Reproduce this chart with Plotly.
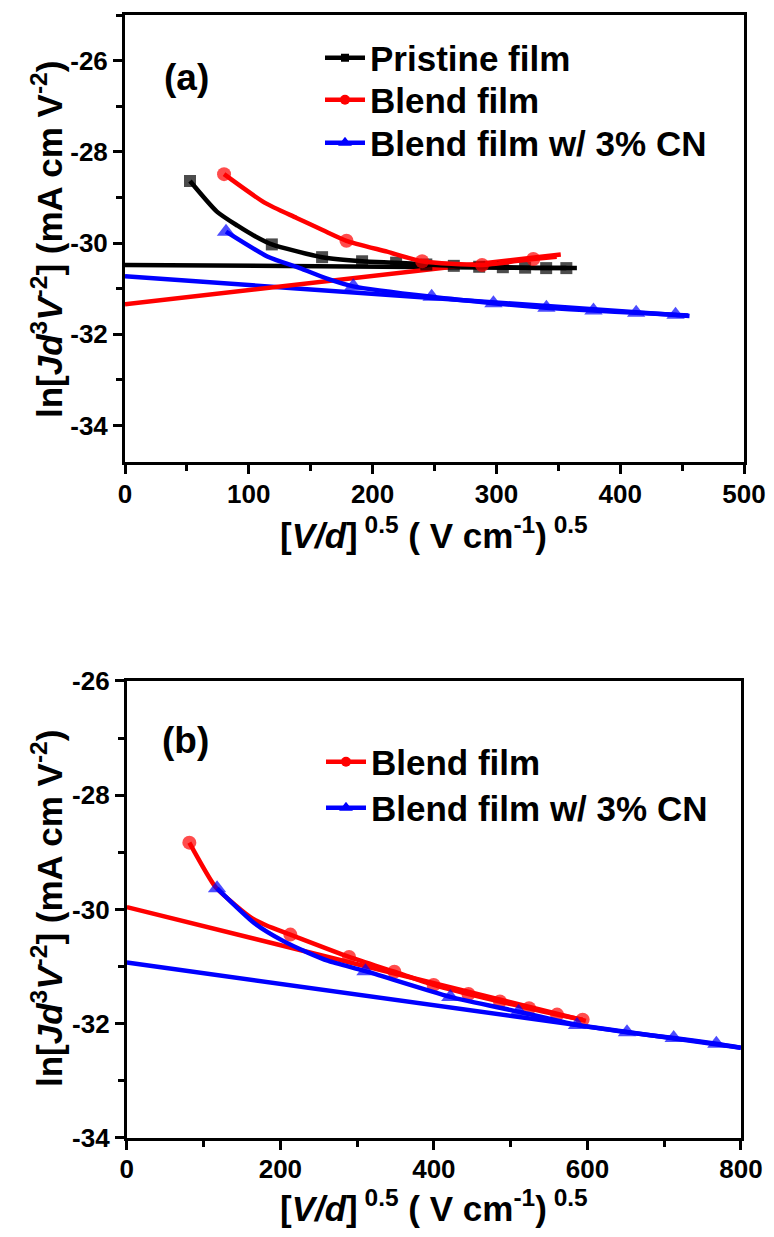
import plotly.graph_objects as go

# ---------------- Panel (a) data ----------------
PRIS_X = [52.5, 74.2, 90.9, 105.0, 118.6, 159.2, 191.5, 219.0, 243.4, 265.6, 286.1, 305.2, 323.2, 340.2, 356.5]
PRIS_Y = [-28.64, -29.31, -29.62, -29.85, -30.03, -30.31, -30.40, -30.43, -30.47, -30.50, -30.52, -30.53, -30.54, -30.55, -30.55]
PRIS_MARK = [1, 0, 0, 0, 1, 1, 1, 1, 1, 1, 1, 1, 1, 1, 1]
PRIS_FIT_X = [0, 365]
PRIS_FIT_Y = [-30.48, -30.55]

BLA_X = [80.0, 113.1, 138.6, 160.0, 178.9, 211.7, 240.0, 288.4, 329.8, 348.7]
BLA_Y = [-28.49, -29.12, -29.45, -29.72, -29.95, -30.19, -30.40, -30.48, -30.35, -30.30]
BLA_MARK = [1, 0, 0, 0, 1, 0, 1, 1, 1, 0]
BLA_FIT_X = [0, 352]
BLA_FIT_Y = [-31.34, -30.25]

CNA_X = [81.6, 115.4, 141.3, 163.2, 184.4, 247.7, 297.6, 340.4, 378.4, 412.9, 444.7, 455.0]
CNA_Y = [-29.75, -30.30, -30.55, -30.78, -30.95, -31.18, -31.32, -31.42, -31.48, -31.53, -31.57, -31.59]
CNA_MARK = [1, 0, 0, 0, 1, 1, 1, 1, 1, 1, 1, 0]
CNA_FIT_X = [0, 456]
CNA_FIT_Y = [-30.73, -31.60]

# ---------------- Panel (b) data ----------------
BLB_X = [81.4, 115.1, 141.0, 162.8, 182.0, 213.0, 289.5, 348.5, 399.7, 445.0, 486.0, 524.0, 560.5, 593.8]
BLB_Y = [-28.83, -29.60, -29.92, -30.15, -30.28, -30.44, -30.83, -31.09, -31.32, -31.48, -31.61, -31.73, -31.84, -31.93]
BLB_MARK = [1, 0, 0, 0, 0, 1, 1, 1, 1, 1, 1, 1, 1, 1]
BLB_FIT_X = [0, 598]
BLB_FIT_Y = [-29.96, -31.95]

CNB_X = [117.5, 166.2, 203.5, 235.0, 262.7, 310.9, 421.4, 510.4, 586.5, 651.6, 712.4, 768.0, 800.0]
CNB_Y = [-29.63, -30.24, -30.55, -30.75, -30.90, -31.08, -31.53, -31.79, -32.02, -32.15, -32.25, -32.35, -32.42]
CNB_MARK = [1, 0, 0, 0, 0, 1, 1, 1, 1, 1, 1, 1, 0]
CNB_FIT_X = [0, 800]
CNB_FIT_Y = [-30.93, -32.42]

NAMES = ["Pristine film", "Blend film", "Blend film w/ 3% CN"]

# tick labels
XA_TICKS = [0, 100, 200, 300, 400, 500]
XB_TICKS = [0, 200, 400, 600, 800]
Y_TICKS = [-26, -28, -30, -32, -34]

BLACK, RED, BLUE = "#000000", "#FF0000", "#0000FF"
FONT = "Liberation Sans, Arial, sans-serif"
LW = 4.5

fig = go.Figure()


def add_series(x, y, mark, color, symbol, msize, xa, ya, name, legend):
    sizes = [msize if m else 0 for m in mark]
    fig.add_trace(go.Scatter(
        x=x, y=y, mode="lines+markers", xaxis=xa, yaxis=ya,
        line=dict(color=color, width=LW, shape="spline", smoothing=0.6),
        marker=dict(color=color, symbol=symbol, size=sizes, line=dict(width=0)),
        showlegend=False, hoverinfo="skip"))
    fig.add_trace(go.Scatter(
        x=[None], y=[None], mode="lines+markers", xaxis=xa, yaxis=ya, name=name,
        line=dict(color=color, width=LW),
        marker=dict(color=color, symbol=symbol, size=msize - 4),
        legend=legend, showlegend=True))


def add_fit(x, y, color, xa, ya):
    fig.add_trace(go.Scatter(
        x=x, y=y, mode="lines", xaxis=xa, yaxis=ya,
        line=dict(color=color, width=LW), showlegend=False, hoverinfo="skip"))


# panel (a)
add_fit(PRIS_FIT_X, PRIS_FIT_Y, BLACK, "x", "y")
add_fit(CNA_FIT_X, CNA_FIT_Y, BLUE, "x", "y")
add_fit(BLA_FIT_X, BLA_FIT_Y, RED, "x", "y")
add_series(PRIS_X, PRIS_Y, PRIS_MARK, BLACK, "square", 12, "x", "y", NAMES[0], "legend")
add_series(BLA_X, BLA_Y, BLA_MARK, RED, "circle", 14, "x", "y", NAMES[1], "legend3")
add_series(CNA_X, CNA_Y, CNA_MARK, BLUE, "triangle-up", 16, "x", "y", NAMES[2], "legend4")

# panel (b)
add_fit(CNB_FIT_X, CNB_FIT_Y, BLUE, "x2", "y2")
add_fit(BLB_FIT_X, BLB_FIT_Y, RED, "x2", "y2")
add_series(BLB_X, BLB_Y, BLB_MARK, RED, "circle", 14, "x2", "y2", NAMES[1], "legend2")
add_series(CNB_X, CNB_Y, CNB_MARK, BLUE, "triangle-up", 16, "x2", "y2", NAMES[2], "legend5")

tickfont = dict(family=FONT, size=26, color="black")


def bold(vals):
    return ["<b>%s</b>" % str(v) for v in vals]


YTITLE = "<b>ln[<i>Jd</i><sup>3</sup><i>V</i><sup>-2</sup>] (mA cm V<sup>-2</sup>)</b>"
XTITLE = "<b>[<i>V/d</i>]<sup> 0.5</sup> ( V cm<sup>-1</sup>)<sup> 0.5</sup></b>"

minor = dict(ticks="outside", ticklen=6, tickwidth=3, tickcolor="black")
axis_common = dict(showline=True, linecolor="black", linewidth=3, mirror=True,
                   ticks="outside", tickwidth=3, ticklen=9, tickcolor="black",
                   showgrid=False, zeroline=False, tickfont=tickfont)


# paper-coordinate helpers (plot area spans x 125..744, y 15..1138)
def px(xp):
    return (xp - 125) / 619.0


def py(yp):
    return (1138 - yp) / 1123.0


title_font_x = dict(family=FONT, size=35, color="black")
title_font_y = dict(family=FONT, size=35, color="black")
label_font = dict(family=FONT, size=37, color="black")
legend_font = dict(family=FONT, size=35, color="black", weight="bold")


def leg(xp, yp):
    return dict(x=px(xp), y=py(yp), xanchor="left", yanchor="middle",
                bgcolor="rgba(0,0,0,0)", font=legend_font, itemwidth=40)


fig.update_layout(
    width=774, height=1237,
    margin=dict(l=125, r=30, t=15, b=99, autoexpand=False),
    paper_bgcolor="white", plot_bgcolor="white",
    xaxis=dict(domain=[0, 1], anchor="y", range=[0, 500],
               tickvals=XA_TICKS, ticktext=bold(XA_TICKS), ticklabelstandoff=-2,
               minor=dict(dtick=50, **minor), **axis_common),
    yaxis=dict(domain=[0.602, 1], anchor="x", range=[-34.8, -25],
               tickvals=Y_TICKS, ticktext=bold(Y_TICKS),
               minor=dict(dtick=1, tick0=-25, **minor), **axis_common),
    xaxis2=dict(domain=[0.003, 0.995], anchor="y2", range=[0, 800],
                tickvals=XB_TICKS, ticktext=bold(XB_TICKS), ticklabelstandoff=-3,
                minor=dict(dtick=100, **minor), **axis_common),
    yaxis2=dict(domain=[0, 0.407], anchor="x2", range=[-34, -26],
                tickvals=Y_TICKS, ticktext=bold(Y_TICKS),
                minor=dict(dtick=1, **minor), **axis_common),
    legend=leg(320, 58),
    legend3=leg(320, 100),
    legend4=leg(320, 143),
    legend2=leg(321, 762),
    legend5=leg(321, 808),
    annotations=[
        dict(text="<b>(a)</b>", xref="x domain", yref="y domain", x=0.1, y=0.86,
             xanchor="center", yanchor="middle", showarrow=False, font=label_font),
        dict(text="<b>(b)</b>", xref="x2 domain", yref="y2 domain", x=0.096, y=0.869,
             xanchor="center", yanchor="middle", showarrow=False, font=label_font),
        dict(text=XTITLE, xref="paper", yref="paper", x=px(434), y=py(533),
             xanchor="center", yanchor="middle", showarrow=False, font=title_font_x),
        dict(text=XTITLE, xref="paper", yref="paper", x=px(434), y=py(1206),
             xanchor="center", yanchor="middle", showarrow=False, font=title_font_x),
        dict(text=YTITLE, xref="paper", yref="paper", x=px(47), y=py(240),
             xanchor="center", yanchor="middle", textangle=-90, showarrow=False, font=title_font_y),
        dict(text=YTITLE, xref="paper", yref="paper", x=px(47), y=py(909),
             xanchor="center", yanchor="middle", textangle=-90, showarrow=False, font=title_font_y),
    ],
)

fig.write_html("out.html")
